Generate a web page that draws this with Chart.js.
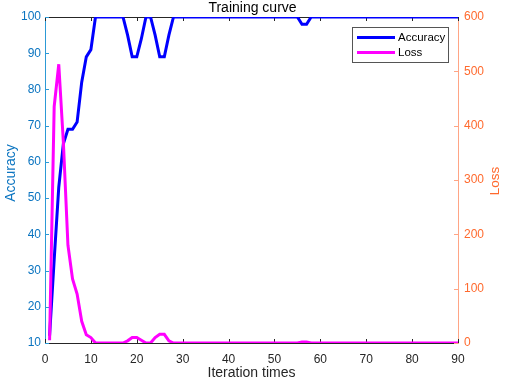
<!DOCTYPE html>
<html><head><meta charset="utf-8">
<script src="https://cdn.jsdelivr.net/npm/chart.js@4"></script>
<style>html,body{margin:0;padding:0;background:#fff;overflow:hidden}canvas{display:block}</style>
</head><body>
<canvas id="c" width="505" height="382"></canvas>
<script>
const iterations=[1,2,3,4,5,6,7,8,9,10,11,12,13,14,15,16,17,18,19,20,21,22,23,24,25,26,27,28,29,30,31,32,33,34,35,36,37,38,39,40,41,42,43,44,45,46,47,48,49,50,51,52,53,54,55,56,57,58,59,60,61,62,63,64,65,66,67,68,69,70,71,72,73,74,75,76,77,78,79,80,81,82,83,84,85,86,87,88,89,90];
const accuracy=[12,33,53,65,69,69,71,82,89,91,
100,100,100,100,100,100,100,95,89,89,
94,100,100,95,89,89,95,100,100,100,
100,100,100,100,100,100,100,100,100,100,
100,100,100,100,100,100,100,100,100,100,
100,100,100,100,100,98,98,100,100,100,
100,100,100,100,100,100,100,100,100,100,
100,100,100,100,100,100,100,100,100,100,
100,100,100,100,100,100,100,100,100,100];
const loss=[5,435,513,370,180,118,90,40,15,10,
0,0,0,0,0,0,0,4,10,10,
5,0,0,10,16,16,4,0,0,0,
0,0,0,0,0,0,0,0,0,0,
0,0,0,0,0,0,0,0,0,0,
0,0,0,0,0,2,2,0,0,0,
0,0,0,0,0,0,0,0,0,0,
0,0,0,0,0,0,0,0,0,0,
0,0,0,0,0,0,0,0,0,0];
const seriesNames=['Accuracy','Loss'];
const titleText='Training curve';
const xTitle='Iteration times';
const yLeftTitle='Accuracy';
const yRightTitle='Loss';

const FONT="'Liberation Sans', Arial, Helvetica, sans-serif";
const DARK='#262626';
const LEFT_TXT='#0A74C0', LEFT_LINE='#2C9AD6';
const RIGHT_TXT='#FF6A2E', RIGHT_LINE='#FFA585';

function vText(ctx,text,x,y,color,size){
  ctx.save();
  ctx.fillStyle=color;
  ctx.font=size+'px '+FONT;
  ctx.textAlign='center';ctx.textBaseline='middle';
  ctx.translate(x,y);
  ctx.rotate(-Math.PI/2);
  ctx.fillText(text,0,0);
  ctx.restore();
}

const decor={
  id:'decor',
  beforeDatasetsDraw(chart){
    const ctx=chart.ctx, a=chart.chartArea;
    const sx=chart.scales.x, sy=chart.scales.y, sy1=chart.scales.y1;
    ctx.save();
    ctx.lineWidth=1;
    ctx.strokeStyle=DARK;
    ctx.beginPath();ctx.moveTo(a.left,a.top+0.5);ctx.lineTo(a.right,a.top+0.5);ctx.stroke();
    sx.ticks.forEach(t=>{
      const p=Math.round(sx.getPixelForValue(t.value))+0.5;
      ctx.beginPath();ctx.moveTo(p,a.bottom);ctx.lineTo(p,a.bottom-4);ctx.stroke();
      ctx.beginPath();ctx.moveTo(p,a.top);ctx.lineTo(p,a.top+4);ctx.stroke();
    });
    ctx.strokeStyle=LEFT_LINE;
    sy.ticks.forEach(t=>{
      const p=Math.round(sy.getPixelForValue(t.value))+0.5;
      ctx.beginPath();ctx.moveTo(a.left,p);ctx.lineTo(a.left+4,p);ctx.stroke();
    });
    ctx.strokeStyle=RIGHT_LINE;
    sy1.ticks.forEach(t=>{
      const p=Math.round(sy1.getPixelForValue(t.value))+0.5;
      ctx.beginPath();ctx.moveTo(a.right,p);ctx.lineTo(a.right-4,p);ctx.stroke();
    });
    ctx.restore();
    vText(ctx,yLeftTitle,11,173,LEFT_TXT,14);
    vText(ctx,yRightTitle,495,181,RIGHT_TXT,13.5);
  },
  afterDatasetsDraw(chart){
    const ctx=chart.ctx;
    ctx.save();
    const bx=352.5, by=27.5, bw=96, bh=35;
    ctx.fillStyle='#fff';ctx.fillRect(bx,by,bw,bh);
    ctx.strokeStyle='#555';ctx.lineWidth=1;ctx.strokeRect(bx,by,bw,bh);
    chart.data.datasets.forEach((ds,i)=>{
      const y=37.5+i*15;
      ctx.strokeStyle=ds.borderColor;ctx.lineWidth=3;
      ctx.beginPath();ctx.moveTo(357,y);ctx.lineTo(395,y);ctx.stroke();
      ctx.fillStyle='#000';ctx.font='11.5px '+FONT;
      ctx.textAlign='left';ctx.textBaseline='middle';
      ctx.fillText(ds.label,398,y+0.5);
    });
    ctx.restore();
  }
};

new Chart(document.getElementById('c'),{
  type:'line',
  data:{
    labels:iterations,
    datasets:[
      {label:seriesNames[0],data:iterations.map((x,i)=>({x:x,y:accuracy[i]})),yAxisID:'y',borderColor:'#0000FF',backgroundColor:'#0000FF',borderWidth:3,pointRadius:0,tension:0,order:1},
      {label:seriesNames[1],data:iterations.map((x,i)=>({x:x,y:loss[i]})),yAxisID:'y1',borderColor:'#FF00FF',backgroundColor:'#FF00FF',borderWidth:3,pointRadius:0,tension:0,order:0}
    ]
  },
  options:{
    responsive:false,
    animation:false,
    devicePixelRatio:1,
    layout:{padding:0},
    plugins:{
      legend:{display:false},
      tooltip:{enabled:false},
      title:{display:true,text:titleText,color:'#000',font:{family:FONT,size:14,weight:'normal'},padding:{top:0,bottom:0.2}}
    },
    scales:{
      x:{type:'linear',min:0,max:90,
        ticks:{stepSize:10,color:DARK,font:{family:FONT,size:12},padding:9,maxRotation:0},
        grid:{display:false,drawTicks:false},
        border:{display:true,color:DARK,width:1},
        title:{display:true,text:xTitle,color:DARK,font:{family:FONT,size:14},padding:{top:0,bottom:0}},
        afterFit(s){s.height=39;}
      },
      y:{position:'left',min:10,max:100,
        ticks:{stepSize:10,color:LEFT_TXT,font:{family:FONT,size:12},padding:4},
        grid:{display:false,drawTicks:false},
        border:{display:true,color:LEFT_LINE,width:1},
        title:{display:false},
        afterFit(s){s.width=45;}
      },
      y1:{position:'right',min:0,max:600,
        ticks:{stepSize:100,color:RIGHT_TXT,font:{family:FONT,size:12},padding:6},
        grid:{display:false,drawTicks:false},
        border:{display:true,color:RIGHT_LINE,width:1},
        title:{display:false},
        afterFit(s){s.width=47;}
      }
    }
  },
  plugins:[decor]
});
</script>
</body></html>
